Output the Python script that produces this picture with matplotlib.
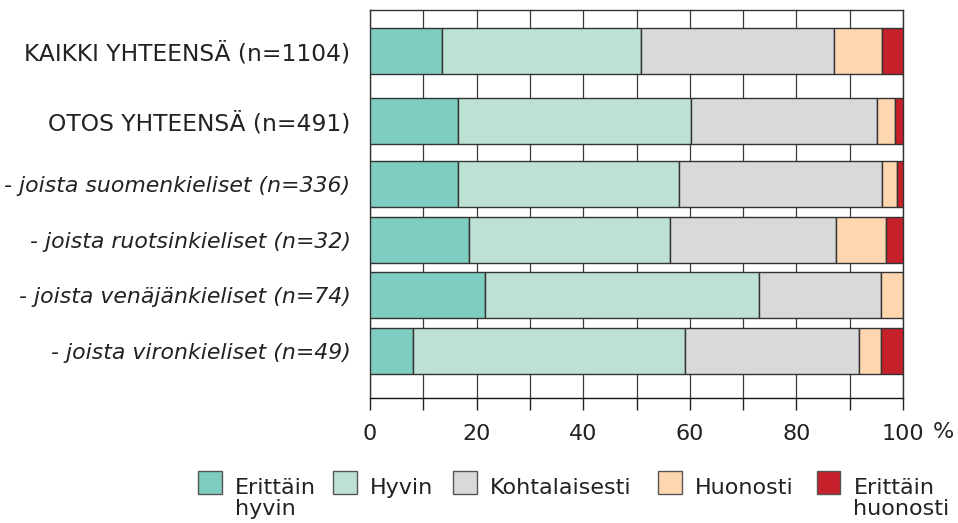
import matplotlib
matplotlib.use("Agg")
import matplotlib.pyplot as plt
from matplotlib.patches import Rectangle
import numpy as np

# ---- data ----
categories = [
    "KAIKKI YHTEENSÄ (n=1104)",
    "OTOS YHTEENSÄ (n=491)",
    "- joista suomenkieliset (n=336)",
    "- joista ruotsinkieliset (n=32)",
    "- joista venäjänkieliset (n=74)",
    "- joista vironkieliset (n=49)",
]
italic_rows = [False, False, True, True, True, True]
series_names = ["Erittäin\nhyvin", "Hyvin", "Kohtalaisesti", "Huonosti", "Erittäin\nhuonosti"]
erittain_hyvin = [13.6, 16.5, 16.5, 18.6, 21.5, 8.0]
hyvin = [37.2, 43.7, 41.4, 37.6, 51.4, 51.1]
kohtalaisesti = [36.3, 34.9, 38.1, 31.2, 22.9, 32.6]
huonosti = [9.0, 3.4, 2.8, 9.4, 4.2, 4.1]
erittain_huonosti = [3.9, 1.5, 1.2, 3.2, 0.0, 4.2]
x_ticks = [0, 20, 40, 60, 80, 100]

# ---- style / layout ----
colors = ["#7FCDC1", "#BDE2D3", "#D8D9DB", "#FED6AF", "#C6202A"]
edge = "#333333"
text_color = "#222222"
W, H = 958, 523
row_pos = [41.2, 110.8, 174.2, 230.0, 285.0, 340.7]   # layout positions (axis px)
bar_h = 46
legend_x = [198.3, 333.3, 453.3, 658.3, 816.7]

plt.rcParams['font.family'] = ['DejaVu Sans']
fig = plt.figure(figsize=(W / 100, H / 100), dpi=100)
ax = fig.add_axes([370 / W, 1 - 398 / H, (903 - 370) / W, (398 - 10) / H])

series = [erittain_hyvin, hyvin, kohtalaisesti, huonosti, erittain_huonosti]
left = np.zeros(len(categories))
for vals, c in zip(series, colors):
    v = np.array(vals)
    ax.barh(row_pos, v, left=left, height=bar_h, color=c, edgecolor=edge,
            linewidth=1.0, zorder=3)
    left += v

ax.set_xlim(0, 100)
ax.set_ylim(388, 0)
ax.set_xticks(x_ticks)
ax.set_xticks(np.arange(10, 100, 20), minor=True)
ax.set_xticklabels([str(t) for t in x_ticks], fontsize=16, color=text_color)
ax.tick_params(axis='x', which='both', length=8.5, width=1, color="#222222",
               direction='out', pad=10.5)
ax.grid(axis='x', which='both', color="#3a3a3a", linewidth=0.9, zorder=0)
ax.set_axisbelow(True)

ax.set_yticks(row_pos)
ax.set_yticklabels(categories, color=text_color)
ax.tick_params(axis='y', length=0, pad=14)
for lbl, it in zip(ax.get_yticklabels(), italic_rows):
    if it:
        lbl.set_fontstyle('italic')
        lbl.set_fontsize(15.8)
    else:
        lbl.set_fontsize(16.8)

for s in ax.spines.values():
    s.set_color("#333333")
    s.set_linewidth(1.0)
ax.spines['bottom'].set_color("#111111")

fig.text(943 / W, 1 - 432 / H, "%", fontsize=16, color=text_color,
         ha='center', va='center')

# ---- legend (manual) ----
sq = 23.3
for name, c, x0 in zip(series_names, colors, legend_x):
    fig.add_artist(Rectangle((x0 / W, 1 - 494.3 / H), sq / W, sq / H,
                             transform=fig.transFigure, facecolor=c,
                             edgecolor="#555555", linewidth=1.0))
    for i, line in enumerate(name.split("\n")):
        fig.text((x0 + 36.7) / W, 1 - (494 + 21 * i) / H, line, fontsize=16,
                 color=text_color, ha='left', va='baseline')

fig.savefig("out.png", dpi=100)
